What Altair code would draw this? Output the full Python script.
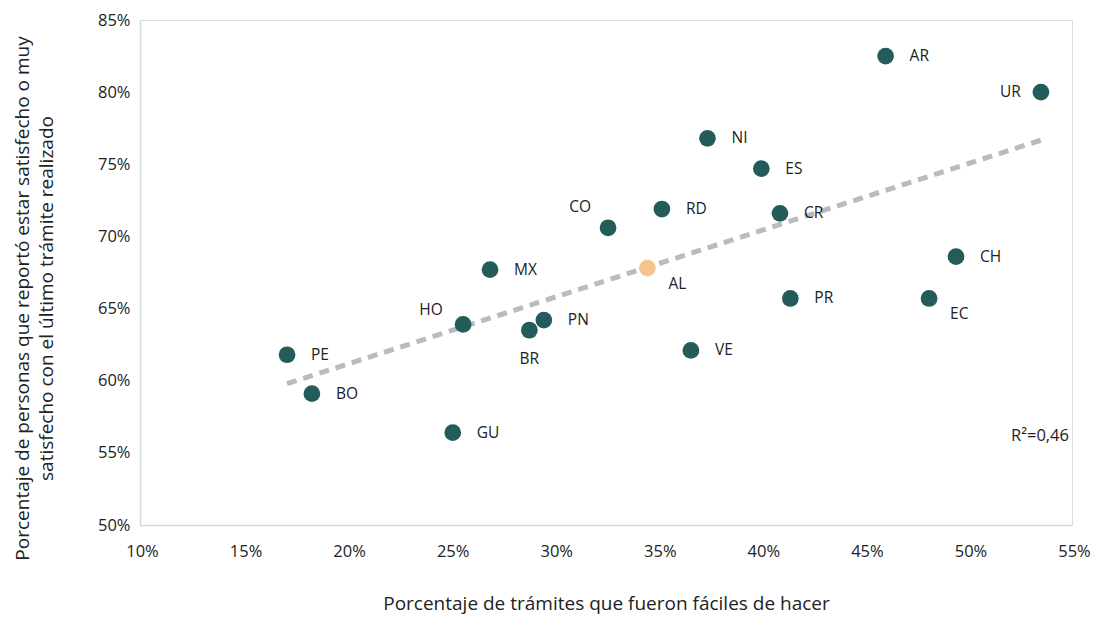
import altair as alt
import pandas as pd

codes = ["AR", "UR", "NI", "ES", "RD", "CO", "CR", "CH", "AL", "MX",
         "PR", "EC", "HO", "PN", "BR", "PE", "VE", "BO", "GU"]
faciles = [46.0, 53.5, 37.4, 40.0, 35.2, 32.6, 40.9, 49.4, 34.5, 26.9,
           41.4, 48.1, 25.6, 29.5, 28.8, 17.1, 36.6, 18.3, 25.1]
satisfechos = [82.5, 80.0, 76.8, 74.7, 71.9, 70.6, 71.6, 68.6, 67.8, 67.7,
               65.7, 65.7, 63.9, 64.2, 63.5, 61.8, 62.1, 59.1, 56.4]
grupo = ["país" if c != "AL" else "promedio" for c in codes]

x_ticks = [10, 15, 20, 25, 30, 35, 40, 45, 50, 55]
y_ticks = [50, 55, 60, 65, 70, 75, 80, 85]

df = pd.DataFrame({"code": codes, "x": [v / 100 for v in faciles],
                   "y": [v / 100 for v in satisfechos], "grupo": grupo})
r2_df = pd.DataFrame({"x": [0.55], "y": [0.562], "t": ["R²=0,46"]})

FONT = "Open Sans"
TXT = "#222222"

xs = alt.Scale(domain=[0.10, 0.55], nice=False, zero=False)
ys = alt.Scale(domain=[0.50, 0.85], nice=False, zero=False)

x_enc = alt.X("x:Q", scale=xs, axis=alt.Axis(
    title="Porcentaje de trámites que fueron fáciles de hacer",
    values=[v / 100 for v in x_ticks], format=".0%", grid=False, ticks=False,
    domainColor="#d9d9d9", domainWidth=1.5, labelFont=FONT, labelFontSize=16.5,
    labelColor=TXT, labelPadding=18, labelOffset=2, titleFont=FONT,
    titleFontSize=19, titleFontWeight="normal", titleColor=TXT,
    titleBaseline="alphabetic", titleY=84, labelFlush=False))
y_enc = alt.Y("y:Q", scale=ys, axis=alt.Axis(
    title=["Porcentaje de personas que reportó estar satisfecho o muy",
           "satisfecho con el último trámite realizado"],
    values=[v / 100 for v in y_ticks], format=".0%", grid=False, ticks=False,
    domainColor="#d9d9d9", domainWidth=1.5, labelFont=FONT, labelFontSize=16.5,
    labelColor=TXT, labelPadding=10, titleFont=FONT, titleFontSize=19,
    titleFontWeight="normal", titleColor=TXT, titleAngle=-90,
    titleBaseline="top", titleAlign="center", titleX=-127, titleY=278,
    titleLineHeight=24, labelFlush=False))

base = alt.Chart(df)

trend = base.transform_filter(alt.datum.grupo == "país").transform_regression(
    "x", "y").mark_line(color="#b8bbbf", strokeWidth=5, strokeDash=[10, 7],
                        strokeCap="butt").encode(x=x_enc, y=y_enc)

dots = base.mark_circle(size=280, opacity=1).encode(
    x=alt.X("x:Q", scale=xs),
    y=alt.Y("y:Q", scale=ys),
    color=alt.Color("grupo:N", scale=alt.Scale(domain=["país", "promedio"],
                    range=["#245b5b", "#f6c48f"]), legend=None))


def labels(sel, **kw):
    return base.transform_filter(
        alt.FieldOneOfPredicate(field="code", oneOf=sel)
    ).mark_text(font=FONT, fontSize=15.5, color=TXT, baseline="middle", **kw).encode(
        x=alt.X("x:Q", scale=xs), y=alt.Y("y:Q", scale=ys), text="code:N")


right = ["AR", "NI", "ES", "RD", "CR", "CH", "MX", "PR", "PN", "PE", "BO", "GU", "VE"]
lab_right = labels(right, align="left", dx=24)
lab_br = labels(["AL", "EC"], align="left", dx=21, dy=16)
lab_left = labels(["UR"], align="right", dx=-20)
lab_co = labels(["CO"], align="center", dx=-28, dy=-21)
lab_ho = labels(["HO"], align="center", dx=-32, dy=-14)
lab_br2 = labels(["BR"], align="center", dy=29)

r2 = alt.Chart(r2_df).mark_text(font=FONT, fontSize=16.5, color=TXT, align="right",
                                baseline="middle", dx=-3).encode(
    x=alt.X("x:Q", scale=xs), y=alt.Y("y:Q", scale=ys), text="t:N")

chart = alt.layer(trend, dots, lab_right, lab_br, lab_left, lab_co, lab_ho,
                  lab_br2, r2).properties(
    width=932, height=505,
    autosize=alt.AutoSizeParams(type="none"),
    padding={"left": 132, "top": 12, "right": 19, "bottom": 89},
).configure_view(stroke=None).configure(background="white")

chart.save("out.html", embed_options={"renderer": "svg", "actions": False})
